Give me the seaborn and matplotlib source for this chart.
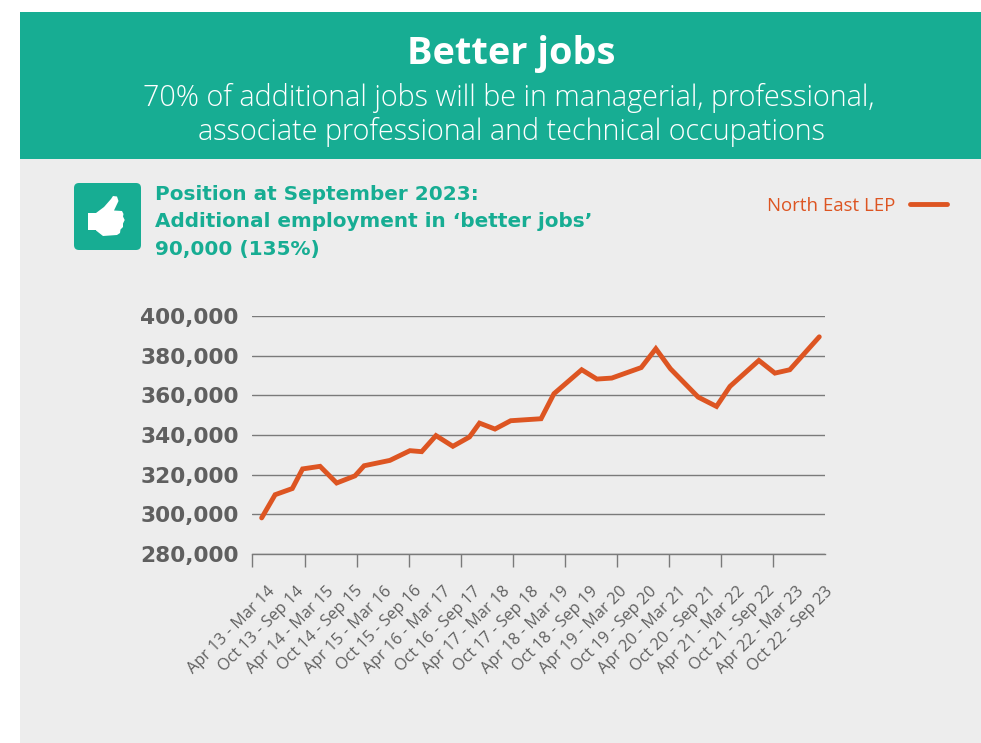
import numpy as np
import pandas as pd
import matplotlib
matplotlib.use("Agg")
import matplotlib.pyplot as plt
from matplotlib.patches import FancyBboxPatch, Polygon, Rectangle
import seaborn as sns

periods = ["Apr 13 - Mar 14", "Oct 13 - Sep 14", "Apr 14 - Mar 15", "Oct 14 - Sep 15",
           "Apr 15 - Mar 16", "Oct 15 - Sep 16", "Apr 16 - Mar 17", "Oct 16 - Sep 17",
           "Apr 17 - Mar 18", "Oct 17 - Sep 18", "Apr 18 - Mar 19", "Oct 18 - Sep 19",
           "Apr 19 - Mar 20", "Oct 19 - Sep 20", "Apr 20 - Mar 21", "Oct 20 - Sep 21",
           "Apr 21 - Mar 22", "Oct 21 - Sep 22", "Apr 22 - Mar 23", "Oct 22 - Sep 23"]
period_pos = [0.32, 0.79, 1.39, 1.75, 2.36, 2.94, 3.58, 3.90, 4.80, 5.50, 5.91, 6.41,
              7.00, 7.58, 7.93, 8.47, 9.02, 10.08, 10.53, 11.50, 12.03, 12.55, 13.58,
              14.09, 14.60, 15.57, 16.21, 16.68, 17.69, 18.25, 18.77, 19.80]
employment = [298200, 309900, 313000, 322900, 324200, 315800, 319400, 324500, 327200,
              332100, 331600, 339700, 334300, 339000, 346000, 343000, 347200, 348200,
              360800, 372900, 368200, 368700, 374000, 383500, 373400, 359100, 354400,
              364500, 377600, 371200, 372900, 389500]
series_name = "North East LEP"
title = "Better jobs"
subtitle = ["70% of additional jobs will be in managerial, professional,",
            "associate professional and technical occupations"]
position = ["Position at September 2023:",
            "Additional employment in ‘better jobs’",
            "90,000 (135%)"]

TEAL = "#17AD93"
PANEL = "#EDEDED"
ORANGE = "#DD5522"
GREY = "#5F5F5F"
W, H = 981, 743

sns.set_theme(style="white")
plt.rcParams["font.family"] = ["Open Sans", "DejaVu Sans"]

fig = plt.figure(figsize=(W / 100, H / 100), dpi=100, facecolor="white")

# Page furniture is laid out on a full-figure canvas measured in pixels
bg = fig.add_axes([0, 0, 1, 1], zorder=0)
bg.set_xlim(0, W)
bg.set_ylim(H, 0)
bg.axis("off")
bg.add_patch(Rectangle((20, 159), W - 20, H - 159, color=PANEL, lw=0))
bg.add_patch(Rectangle((20, 12), W - 20, 147, color=TEAL, lw=0))
bg.text(511, 54, title, color="white", fontsize=27.3, fontweight="bold", ha="center", va="center")
bg.text(509, 98, subtitle[0], color="white", fontsize=20.7, fontweight="light", ha="center", va="center")
bg.text(511, 132, subtitle[1], color="white", fontsize=20.7, fontweight="light", ha="center", va="center")

# Thumbs-up badge
bg.add_patch(FancyBboxPatch((78, 187), 59, 59, boxstyle="round,pad=4,rounding_size=5",
                            facecolor=TEAL, edgecolor="none"))
bg.add_patch(Rectangle((87.7, 212.7), 9, 17, color="white", lw=0))
bg.add_patch(Polygon([(96, 213), (104, 207), (111, 199), (113, 196), (117, 196.5), (118.5, 201),
                      (114, 210.5), (122, 211), (123.5, 214), (123, 216.5), (124.7, 220),
                      (123, 223.5), (123, 227), (120.5, 229.5), (120, 233), (117, 235),
                      (103, 236), (96, 230.5)], closed=True, facecolor="white", edgecolor="none"))
for i, line in enumerate(position):
    bg.text(155, 194 + i * 27.5, line, color=TEAL, fontsize=14.4, fontweight="bold",
            family="DejaVu Sans", ha="left", va="center")

# Employment line chart
ax = fig.add_axes([252.5 / W, 1 - 554 / H, (825 - 252.5) / W, (554 - 316) / H], zorder=1)
ax.patch.set_alpha(0)
df = pd.DataFrame({"period": period_pos, "employment": employment})
sns.lineplot(data=df, x="period", y="employment", color=ORANGE, linewidth=3.5,
             label=series_name, ax=ax, solid_joinstyle="miter", solid_capstyle="round")
ax.set_xlim(0, len(periods))
ax.set_ylim(280000, 400000)
ax.set_xlabel("")
ax.set_ylabel("")

ax.set_yticks(np.arange(280000, 400001, 20000))
ax.set_yticklabels([f"{v:,}" for v in np.arange(280000, 400001, 20000)], color=GREY,
                   fontsize=15.6, fontweight="bold", family="DejaVu Sans")
ax.yaxis.grid(True, color="#7A7A7A", linewidth=1)
ax.tick_params(axis="y", length=0, pad=10)

# Labels are spread a little wider than the tick marks beneath them
ax.set_xticks(np.linspace(0.5, len(periods) + 0.0, len(periods)))
ax.set_xticklabels(periods, rotation=45, ha="right", rotation_mode="anchor",
                   color=GREY, fontsize=11.7)
ax.set_xticks(np.linspace(0, len(periods), 12), minor=True)
ax.tick_params(axis="x", which="major", length=0, pad=21)
ax.tick_params(axis="x", which="minor", length=9.4, width=1, color="#7A7A7A", bottom=True)
for name in ("top", "left", "right"):
    ax.spines[name].set_visible(False)
ax.spines["bottom"].set_color("#7A7A7A")
ax.spines["bottom"].set_linewidth(1)

leg = ax.legend(loc="upper right", bbox_to_anchor=(947 / W, 1 - 197 / H),
                bbox_transform=fig.transFigure, frameon=False, markerfirst=False,
                prop={"size": 13.4}, handlelength=2.0, handletextpad=0.75,
                borderaxespad=0, borderpad=0)
for t in leg.get_texts():
    t.set_color(ORANGE)

fig.savefig("out.png", dpi=100, facecolor="white")
